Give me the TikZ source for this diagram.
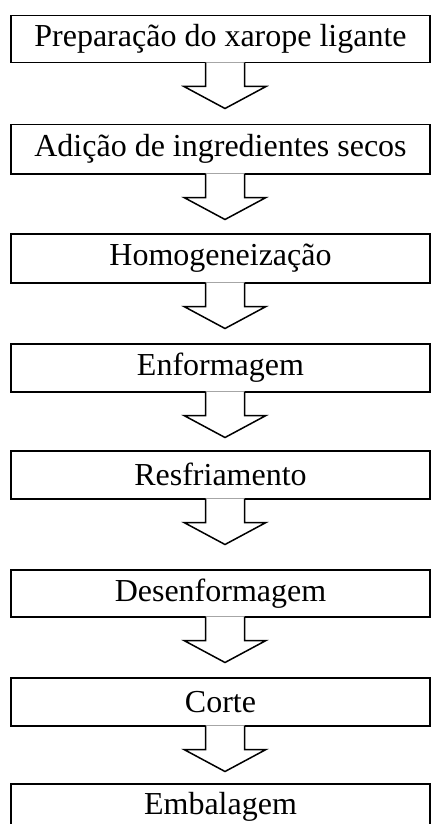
\documentclass[tikz,border=0pt]{standalone}
\usepackage{fontspec}
\setmainfont{Liberation Serif}
\usetikzlibrary{calc}
\newcommand\flowarrow[2]{%
  \coordinate (#2) at ($(#1.south)+(4.5,0)$);
  \fill[white] (#2) ++(-19.5,-1.2) -- ++(0,24.2) -- ++(-21.5,0) -- ++(41,22) -- ++(41,-22) -- ++(-21.5,0) -- ++(0,-24.2) -- cycle;
  \draw[arrowline] (#2) ++(-19.5,-0.75) -- ++(0,23.75) -- ++(-21.5,0) -- ++(41,22) -- ++(41,-22) -- ++(-21.5,0) -- ++(0,-23.75);
}
\begin{document}
\begin{tikzpicture}[x=1pt,y=-1pt,
  stepbox/.style={draw, line width=1.5pt, minimum width=419pt, inner sep=0pt,
    font=\fontsize{32}{36}\selectfont, anchor=north},
  arrowline/.style={line width=1.5pt, line join=miter}]
  \useasboundingbox (0,0) rectangle (431,824);
  \clip (0,0) rectangle (431,824);
  \node[stepbox, minimum height=47pt] (b1) at (220.5,15)  {Preparação do xarope ligante};
  \node[stepbox, minimum height=49pt] (b2) at (220.5,124) {Adição de ingredientes secos};
  \node[stepbox, minimum height=49pt] (b3) at (220.5,233) {Homogeneização};
  \node[stepbox, minimum height=48pt] (b4) at (220.5,343) {Enformagem};
  \node[stepbox, minimum height=48pt] (b5) at (220.5,450) {Resfriamento};
  \node[stepbox, minimum height=47pt] (b6) at (220.5,569) {Desenformagem};
  \node[stepbox, minimum height=48pt] (b7) at (220.5,677) {Corte};
  \node[stepbox, minimum height=47pt] (b8) at (220.5,783) {Embalagem};
  \flowarrow{b1}{a1}
  \flowarrow{b2}{a2}
  \flowarrow{b3}{a3}
  \flowarrow{b4}{a4}
  \flowarrow{b5}{a5}
  \flowarrow{b6}{a6}
  \flowarrow{b7}{a7}
\end{tikzpicture}
\end{document}
